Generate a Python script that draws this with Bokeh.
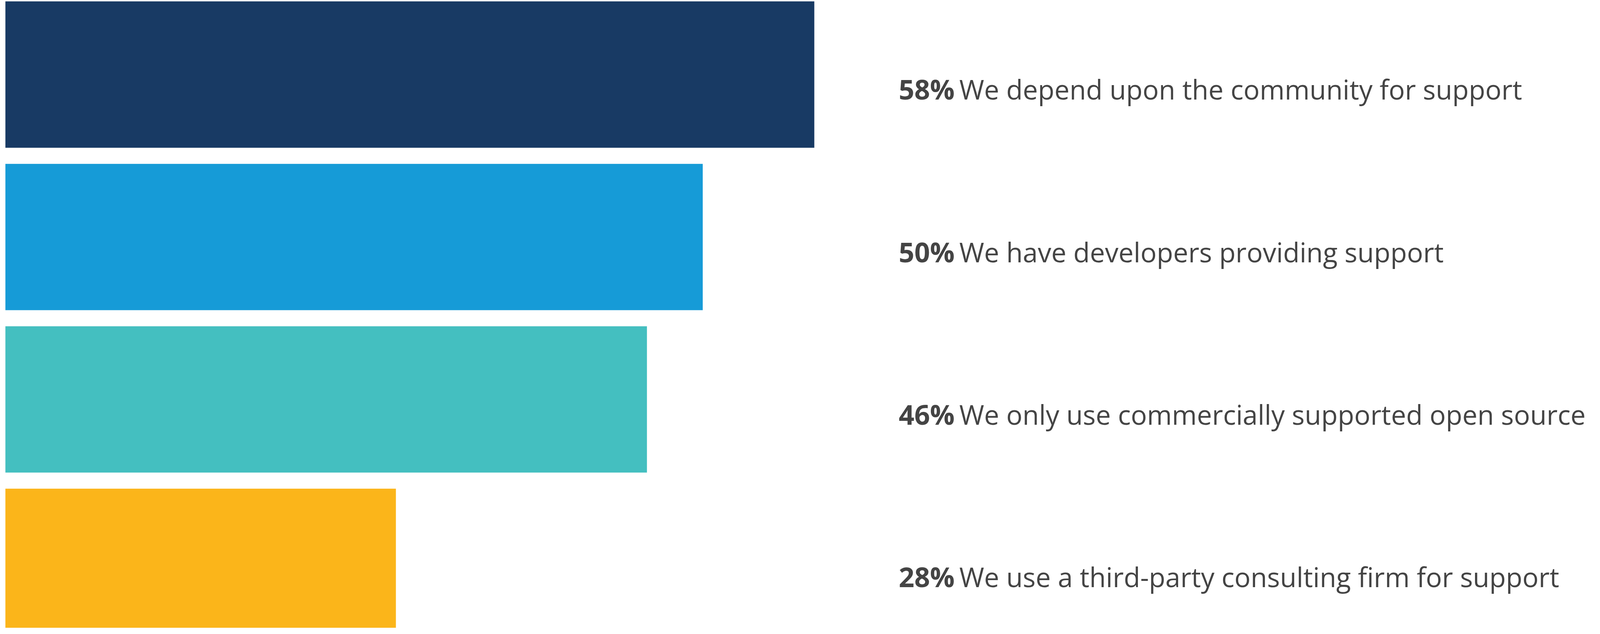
from bokeh.plotting import figure
from bokeh.models import Range1d, ColumnDataSource
from bokeh.core.properties import value
from bokeh.embed import file_html
from bokeh.resources import INLINE

# Data
percents = [58, 50, 46, 28]
labels = [
    "We depend upon the community for support",
    "We have developers providing support",
    "We only use commercially supported open source",
    "We use a third-party consulting firm for support",
]
colors = ["#183A64", "#169BD7", "#44BFC0", "#FBB51A"]

idx = list(range(len(percents)))
pct_text = [f"{v}%" for v in percents]
baseline_shift = 0.09
src = ColumnDataSource(dict(
    y=idx,
    ty=[i + baseline_shift for i in idx],
    right=percents,
    color=colors,
    pct=pct_text,
    label=labels,
))

W, H = 4080, 1608
p = figure(width=W, height=H, output_backend="svg", toolbar_location=None,
           x_range=Range1d(-0.3725, 113.9), y_range=Range1d(3.407, -0.458),
           min_border=0)
p.axis.visible = False
p.grid.visible = False
p.outline_line_color = None
p.background_fill_color = "white"
p.border_fill_color = "white"

p.hbar(y="y", left=0, right="right", height=0.901, fill_color="color",
       line_color=None, source=src)

text_x = 64.05
p.text(x=text_x, y="ty", text="pct", source=src, text_font=value("Open Sans"),
       text_font_style="bold", text_font_size="70px", text_color="#444444",
       text_baseline="alphabetic", text_align="left")
p.text(x=text_x, y="ty", text="label", source=src, text_font=value("Open Sans"),
       text_font_size="69px", text_color="#444444", x_offset=155,
       text_baseline="alphabetic", text_align="left")

open("out.html", "w").write(file_html(p, INLINE))
